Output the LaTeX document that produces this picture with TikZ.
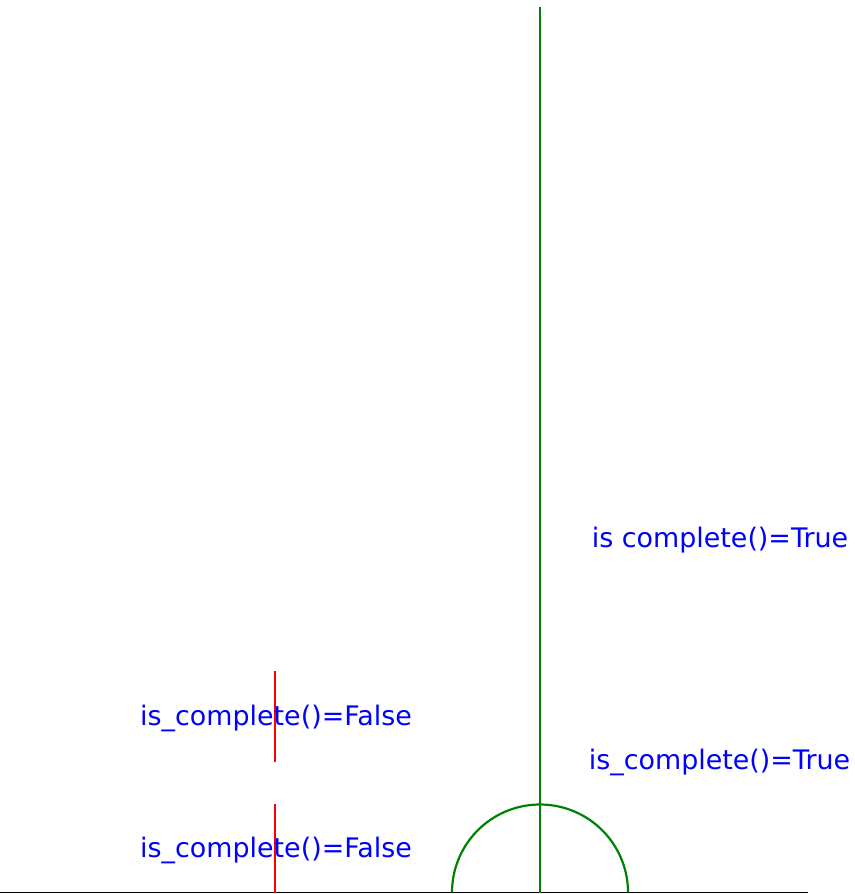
\documentclass[tikz,border=0pt]{standalone}
\usepackage{fontspec}
\setmainfont{DejaVu Sans}
\begin{document}
\begin{tikzpicture}[x=1pt,y=-1pt,
  lbl/.style={text=blue,font=\fontsize{26.9}{30}\selectfont,inner sep=0pt,anchor=center},
  gline/.style={draw={rgb,255:red,0;green,128;blue,0},line width=2.2pt},
  rline/.style={draw=red,line width=2.2pt},
  base/.style={draw=black,line width=1.2pt}]
\useasboundingbox (0,0) rectangle (854,894);
\coordinate (b0) at (0,892.5);
\coordinate (b1) at (807.5,892.5);
\draw[base] (b0) -- (b1);
\coordinate (gtop) at (540,7);
\coordinate (gbot) at (540,892.5);
\draw[gline] (gtop) -- (gbot);
\coordinate (arcs) at (452,892.5);
\draw[gline] (arcs) arc[start angle=180,end angle=360,radius=88];
\coordinate (r1t) at (275,671);
\coordinate (r1b) at (275,762);
\draw[rline] (r1t) -- (r1b);
\coordinate (r2t) at (275,804);
\coordinate (r2b) at (275,892.5);
\draw[rline] (r2t) -- (r2b);
\node[lbl] (t1) at (720,540) {is complete()=True};
\node[lbl] (t2) at (719.5,762) {is\_complete()=True};
\node[lbl] (f1) at (276,718) {is\_complete()=False};
\node[lbl] (f2) at (276,850) {is\_complete()=False};
\end{tikzpicture}
\end{document}
